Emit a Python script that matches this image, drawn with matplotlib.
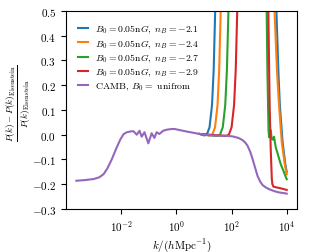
import numpy as np
import matplotlib
matplotlib.use('Agg')
import matplotlib.pyplot as plt
from matplotlib.ticker import NullLocator

plt.rcParams['font.family'] = 'serif'
plt.rcParams['font.serif'] = ['cmr10']
plt.rcParams['mathtext.fontset'] = 'cm'
plt.rcParams['axes.formatter.use_mathtext'] = True
plt.rcParams['font.size'] = 8

# CAMB reference curve (log10 k, relative difference)
camb_logk = [-3.63, -3.30, -3.00, -2.80, -2.64, -2.50, -2.34, -2.20, -2.04, -1.92, -1.80,
             -1.62, -1.56, -1.44, -1.34, -1.26, -1.16, -1.02, -0.90, -0.80, -0.72,
             -0.62, -0.48, -0.36, -0.18, -0.06, 0.06, 0.36, 0.84, 1.20, 1.44, 1.80,
             2.04, 2.25, 2.40, 2.50, 2.58, 2.68, 2.76, 2.85, 2.94, 3.03, 3.12, 3.24,
             3.36, 3.55, 3.72, 3.90, 4.00]
camb_val = [-0.186, -0.183, -0.179, -0.172, -0.159, -0.135, -0.098, -0.060, -0.020, 0.002, 0.010,
            0.014, 0.014, 0.000, 0.016, -0.008, 0.010, -0.035, 0.006, -0.013, 0.010,
            0.003, 0.016, 0.020, 0.023, 0.023, 0.020, 0.013, 0.003, -0.002, -0.004, -0.004,
            -0.007, -0.013, -0.022, -0.032, -0.045, -0.070, -0.098, -0.132, -0.166, -0.188, -0.203, -0.213,
            -0.220, -0.228, -0.233, -0.236, -0.238]

# magnetic field runs: rise at intermediate k, come back down at high k
b21_logk = [0.84, 1.00, 1.10, 1.20, 1.29, 1.35, 1.38, 1.41, 1.45,
            3.58, 3.62, 3.70, 3.75, 3.85, 3.95, 4.00]
b21_val = [0.003, -0.003, 0.000, 0.030, 0.120, 0.260, 0.390, 0.520, 0.800,
           0.800, 0.520, 0.250, 0.120, -0.030, -0.120, -0.150]

b24_logk = [0.84, 1.20, 1.30, 1.40, 1.49, 1.55, 1.58, 1.61, 1.65,
            3.51, 3.55, 3.65, 3.72, 3.82, 3.93, 4.00]
b24_val = [0.003, -0.004, 0.000, 0.030, 0.120, 0.260, 0.390, 0.520, 0.800,
           0.800, 0.520, 0.250, 0.120, -0.030, -0.120, -0.160]

b27_logk = [0.84, 1.45, 1.58, 1.68, 1.77, 1.83, 1.86, 1.89, 1.93,
            3.24, 3.27, 3.30, 3.34, 3.36, 3.42, 3.45, 3.50, 3.54, 3.60, 3.78, 4.00]
b27_val = [0.003, -0.005, 0.000, 0.030, 0.120, 0.260, 0.390, 0.520, 0.800,
           0.800, 0.520, 0.250, 0.020, -0.010, 0.019, -0.015, -0.020, -0.008, -0.050, -0.118, -0.180]

b29_logk = [0.84, 1.80, 1.90, 2.00, 2.09, 2.15, 2.18, 2.21, 2.25,
            3.29, 3.33, 3.38, 3.42, 3.46, 3.48, 3.52, 3.60, 3.80, 4.00]
b29_val = [0.003, -0.005, 0.000, 0.030, 0.120, 0.260, 0.390, 0.520, 0.800,
           0.800, 0.520, 0.124, -0.060, -0.180, -0.200, -0.210, -0.212, -0.217, -0.223]

runs = [(b21_logk, b21_val, r'$B_0 = 0.05{\rm n}G,\ n_B = -2.1$'),
        (b24_logk, b24_val, r'$B_0 = 0.05{\rm n}G,\ n_B = -2.4$'),
        (b27_logk, b27_val, r'$B_0 = 0.05{\rm n}G,\ n_B = -2.7$'),
        (b29_logk, b29_val, r'$B_0 = 0.05{\rm n}G,\ n_B = -2.9$')]

xticks = [1e-2, 1e0, 1e2, 1e4]

fig = plt.figure(figsize=(3.31, 2.53), dpi=100)
ax = fig.add_axes([0.199, 0.170, 0.699, 0.783])

for lk, v, lab in runs:
    ax.plot(10 ** np.array(lk), v, lw=1.5, label=lab)
ax.plot(10 ** np.array(camb_logk), camb_val, lw=1.5, label=r'CAMB, $B_0 = $ unifrom')

ax.set_xscale('log')
ax.set_xticks(xticks)
ax.xaxis.set_minor_locator(NullLocator())
ax.set_ylim(-0.3, 0.5)
ax.set_yticks(np.arange(-0.3, 0.51, 0.1))
ax.set_xlabel(r'$k/(h{\rm Mpc}^{-1})$', labelpad=2)
ax.set_ylabel(r'$\frac{P(k)-P(k)_{\rm Eisenstein}}{P(k)_{\rm Eisenstein}}$', fontsize=9.5)
ax.yaxis.set_label_coords(-0.147, 0.54)

ax.legend(loc='upper left', fontsize=7, frameon=False, handlelength=1.1,
          labelspacing=0.2, borderaxespad=0.8, handletextpad=0.7)

fig.savefig('out.png', dpi=100)
